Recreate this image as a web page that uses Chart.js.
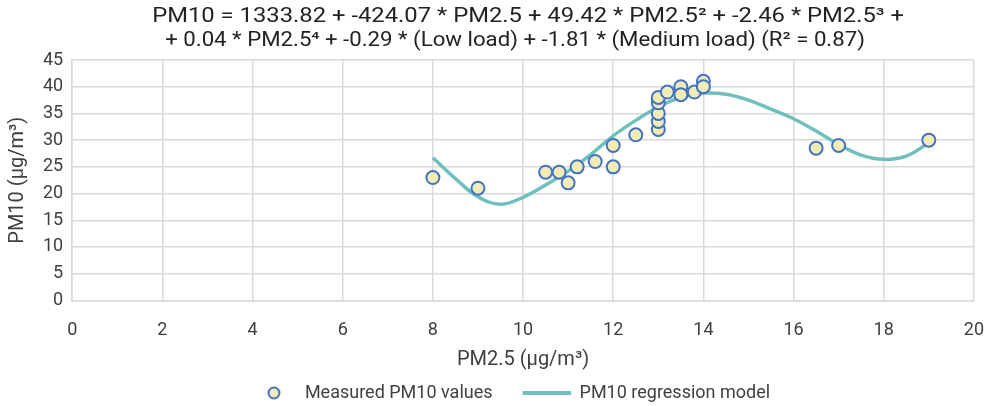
<!DOCTYPE html>
<html>
<head>
<meta charset="utf-8">
<script src="https://cdn.jsdelivr.net/npm/chart.js@4.4.1/dist/chart.umd.min.js"></script>
<style>
  html, body { margin: 0; padding: 0; background: #fff; }
</style>
</head>
<body>
<canvas id="chart" width="991" height="406"></canvas>
<script>
// measured points
const pm25 = [8, 9, 10.5, 10.8, 11, 11.2, 11.6, 12, 12, 12.5, 13, 13, 13, 13, 13, 13.2, 13.5, 13.5, 13.8, 14, 14, 16.5, 17, 19];
const pm10 = [23, 21, 24, 24, 22, 25, 26, 29, 25, 31, 32, 33.5, 35, 37, 38, 39, 40, 38.5, 39, 41, 40, 28.5, 29, 30];

// regression curve
const modelX = [8, 8.5, 9, 9.5, 10, 10.5, 11, 11.5, 12, 12.5, 13, 13.5, 14, 14.5, 15, 15.5, 16, 16.5, 17, 17.5, 18, 18.5, 19];
const modelY = [26.7, 22.8, 19.4, 18.0, 19.3, 21.6, 24.2, 27.3, 30.8, 33.7, 36.2, 38.0, 38.8, 38.6, 37.5, 35.8, 34.0, 31.7, 29.2, 27.2, 26.4, 27.0, 29.5];

const titleLines = [
  'PM10 = 1333.82 + -424.07 * PM2.5 + 49.42 * PM2.5² + -2.46 * PM2.5³ +',
  '+ 0.04 * PM2.5⁴ + -0.29 * (Low load) + -1.81 * (Medium load) (R² = 0.87)'
];
const seriesNames = ['Measured PM10 values', 'PM10 regression model'];

const FONT = 'Roboto';
const TEXT = '#404040';
const GRID = '#d9d9d9';
const DOT_FILL = '#efedb5';
const DOT_EDGE = '#4472c4';
const TEAL = '#6fc0bd';
const SWATCH_W = 78;

// legend swatches (same width for both items)
function makeSwatch(draw) {
  const c = document.createElement('canvas');
  c.width = SWATCH_W; c.height = 16;
  draw(c.getContext('2d'));
  return c;
}
const dotIcon = makeSwatch(c => {
  c.beginPath();
  c.arc(56, 8, 5.5, 0, Math.PI * 2);
  c.fillStyle = DOT_FILL;
  c.fill();
  c.lineWidth = 2;
  c.strokeStyle = DOT_EDGE;
  c.stroke();
});
const lineIcon = makeSwatch(c => {
  c.beginPath();
  c.moveTo(30, 8);
  c.lineTo(SWATCH_W, 8);
  c.lineWidth = 4;
  c.strokeStyle = TEAL;
  c.stroke();
});

// two line title centred over the plot area, a bit wider like the original
const titlePlugin = {
  id: 'eqTitle',
  afterDraw(chart) {
    const ctx = chart.ctx;
    const cx = (chart.chartArea.left + chart.chartArea.right) / 2;
    const rows = [[cx + 5, 17, 1.19], [cx - 8, 41, 1.11]];
    ctx.save();
    ctx.font = '20px ' + FONT;
    ctx.fillStyle = '#222';
    ctx.textAlign = 'center';
    ctx.textBaseline = 'middle';
    titleLines.forEach((t, i) => {
      ctx.save();
      ctx.translate(rows[i][0], rows[i][1]);
      ctx.scale(rows[i][2], 1);
      ctx.fillText(t, 0, 0);
      ctx.restore();
    });
    ctx.restore();
  }
};

const ctx = document.getElementById('chart').getContext('2d');
new Chart(ctx, {
  type: 'scatter',
  data: {
    datasets: [
      {
        label: seriesNames[0],
        data: pm25.map((x, i) => ({ x: x, y: pm10[i] })),
        backgroundColor: DOT_FILL,
        borderColor: DOT_EDGE,
        borderWidth: 2,
        pointRadius: 6.5,
        pointHoverRadius: 6.5
      },
      {
        label: seriesNames[1],
        data: modelX.map((x, i) => ({ x: x, y: modelY[i] })),
        showLine: true,
        borderColor: TEAL,
        backgroundColor: TEAL,
        borderWidth: 3.5,
        pointRadius: 0,
        tension: 0.4
      }
    ]
  },
  options: {
    responsive: false,
    animation: false,
    layout: { padding: { top: 60, left: 2, right: 5, bottom: -6 } },
    scales: {
      x: {
        type: 'linear',
        min: 0,
        max: 20,
        ticks: { stepSize: 2, padding: 7, color: TEXT, font: { family: FONT, size: 18 } },
        grid: { color: GRID, lineWidth: 1.5, drawTicks: true, tickLength: 12, tickColor: 'rgba(0,0,0,0)' },
        border: { color: GRID, width: 1.5 },
        title: {
          display: true,
          text: 'PM2.5 (µg/m³)',
          color: TEXT,
          font: { family: FONT, size: 20 },
          padding: { top: 0, bottom: 12 }
        }
      },
      y: {
        min: 0,
        max: 45,
        ticks: { stepSize: 5, autoSkip: false, padding: 9, color: TEXT, font: { family: FONT, size: 18 } },
        grid: { color: GRID, lineWidth: 1.5, drawTicks: false },
        border: { color: GRID, width: 1.5 },
        title: {
          display: true,
          text: 'PM10 (µg/m³)',
          color: TEXT,
          font: { family: FONT, size: 20 },
          padding: { top: 4, bottom: 4 }
        }
      }
    },
    plugins: {
      tooltip: { enabled: false },
      legend: {
        position: 'bottom',
        labels: {
          usePointStyle: true,
          pointStyleWidth: SWATCH_W,
          padding: 0,
          color: TEXT,
          font: { family: FONT, size: 18 },
          generateLabels(chart) {
            const items = Chart.defaults.plugins.legend.labels.generateLabels(chart);
            items[0].pointStyle = dotIcon;
            items[1].pointStyle = lineIcon;
            return items;
          }
        }
      }
    }
  },
  plugins: [titlePlugin]
});
</script>
</body>
</html>
